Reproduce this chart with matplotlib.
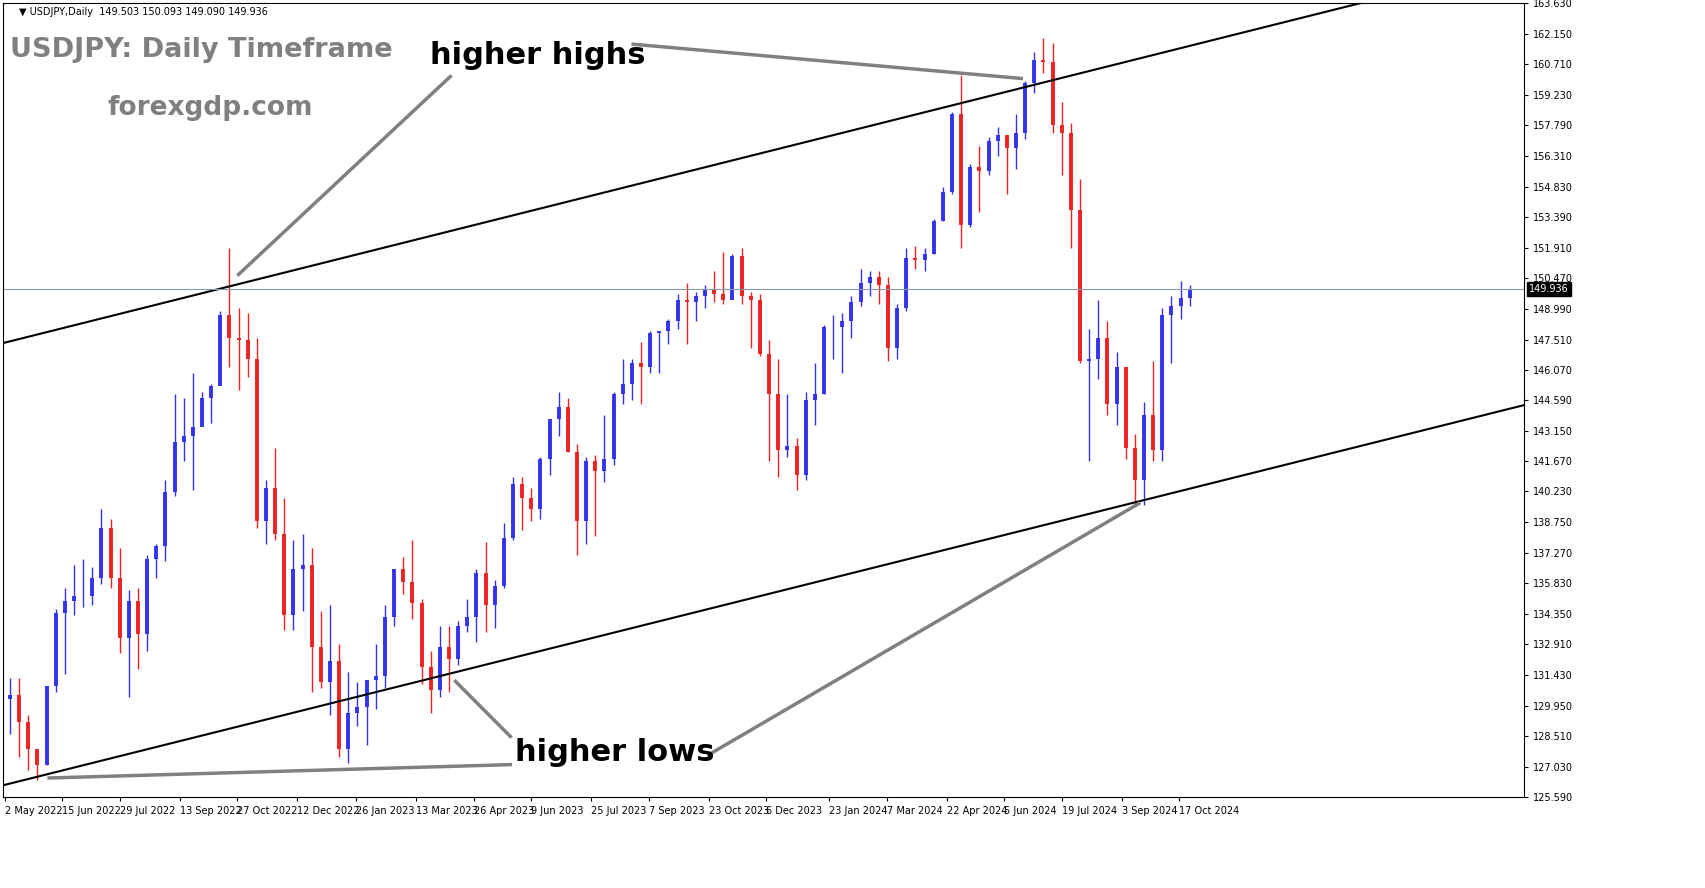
import matplotlib
matplotlib.use("Agg")
import matplotlib.pyplot as plt
import matplotlib.dates as mdates
import pandas as pd

closes = [130.5,129.2,127.9,127.1,130.9,134.4,135.0,135.2,135.2,136.1,138.5,136.1,133.2,135.0,133.4,137.0,137.6,140.2,142.6,142.9,143.3,144.7,145.3,148.7,147.6,147.5,146.6,138.8,140.4,138.2,134.3,136.5,136.7,132.8,131.1,
132.1,127.9,129.6,129.9,131.2,131.4,134.2,136.5,135.9,134.9,131.8,130.7,132.8,132.2,133.8,134.2,136.3,134.8,135.7,138.0,140.6,139.9,139.4,141.8,143.7,144.3,142.1,138.8,141.7,141.2,141.8,144.9,145.4,146.4,146.2,147.8,147.9,148.4,149.4,149.3,149.6,149.9,149.7,149.4,151.5,149.6,149.4,146.8,144.9,142.2,142.4,141.0,
144.6,144.9,148.1,148.1,148.4,149.3,150.2,150.5,150.1,147.1,149.0,151.4,151.3,151.6,153.2,154.6,158.3,153.0,155.8,155.6,157.0,157.3,156.7,157.4,159.8,160.9,160.8,157.8,157.4,153.7,146.5,146.6,147.6,144.4,146.2,142.3,140.8,143.9,142.2,148.7,149.1,149.5,149.94]
highs = [131.3,131.3,129.5,127.9,130.9,134.6,135.6,136.7,137.0,136.6,139.4,138.9,137.5,135.5,135.6,137.2,137.7,140.8,144.9,144.7,145.9,145.0,145.4,148.9,151.9,149.0,148.8,147.6,140.8,142.3,139.9,137.9,138.2,137.5,134.5,
134.8,132.9,131.6,131.1,131.2,132.9,134.8,136.5,137.1,137.9,135.1,132.6,133.8,133.8,134.0,135.1,136.5,137.8,136.0,138.7,140.9,140.9,140.4,141.9,143.4,145.0,144.7,142.5,141.9,142.0,143.9,145.0,146.6,146.6,147.4,147.9,147.9,148.5,149.7,150.2,149.8,150.1,150.8,151.7,151.6,151.9,149.8,149.7,147.5,146.6,144.9,142.8,
145.0,146.4,148.2,148.7,148.8,149.6,150.9,150.8,150.8,150.5,149.2,151.9,151.97,151.9,153.3,154.8,158.4,160.2,155.9,156.8,157.2,157.7,157.0,158.3,159.9,161.3,161.95,161.7,158.9,157.9,155.2,148.0,149.4,148.4,146.9,146.2,143.0,144.5,146.5,149.0,149.6,150.3,150.1]
lows = [128.6,127.5,126.9,126.4,127.1,130.6,131.5,134.3,134.7,134.8,135.8,135.6,132.5,130.4,131.7,132.6,136.1,136.9,140.0,141.7,140.3,143.5,143.5,145.4,146.2,145.1,145.7,138.5,137.7,137.9,133.6,133.6,134.5,130.6,130.8,
129.5,127.5,127.2,129.0,128.1,129.8,130.8,133.8,135.3,134.1,131.0,129.6,130.4,130.6,131.9,133.5,133.0,133.5,133.7,135.6,137.9,138.4,138.8,138.9,141.0,142.9,142.1,137.2,137.7,138.1,140.7,141.5,144.4,144.6,144.4,145.9,145.9,147.3,148.0,147.3,148.4,149.0,149.3,149.2,149.7,149.2,147.1,146.7,141.7,140.9,141.9,140.3,
140.8,143.4,144.9,146.6,145.9,147.6,149.1,149.6,149.2,146.5,146.6,148.9,150.9,150.8,151.6,153.2,154.5,151.9,152.9,153.6,155.4,156.3,154.5,155.7,157.1,159.3,160.3,157.4,155.4,151.9,146.4,141.7,145.6,143.9,143.4,141.8,139.6,139.6,141.7,141.7,146.4,148.5,149.1]
dates = pd.date_range("2022-05-06", periods=len(closes), freq="7D")
opens = [130.3] + closes[:-1]

yticks = [125.590,127.030,128.510,129.950,131.430,132.910,134.350,135.830,137.270,138.750,140.230,141.670,143.150,144.590,146.070,147.510,148.990,150.470,151.910,153.390,154.830,156.310,157.790,159.230,160.710,162.150,163.630]
xlabels = ["2 May 2022","15 Jun 2022","29 Jul 2022","13 Sep 2022","27 Oct 2022","12 Dec 2022","26 Jan 2023","13 Mar 2023","26 Apr 2023","9 Jun 2023","25 Jul 2023","7 Sep 2023","23 Oct 2023","6 Dec 2023","23 Jan 2024","7 Mar 2024","22 Apr 2024","5 Jun 2024","19 Jul 2024","3 Sep 2024","17 Oct 2024"]

upper = (("2022-05-02",147.36),("2025-03-11",163.73))
lower = (("2022-05-02",126.17),("2025-07-08",144.37))
ann = [(("2022-10-28",150.63),("2023-04-08",160.11)),
       (("2023-08-26",161.66),("2024-06-18",160.02)),
       (("2022-06-05",126.5),("2023-05-24",127.14)),
       (("2023-04-12",131.13),("2023-05-24",128.49)),
       (("2023-10-24",127.66),("2024-09-16",139.65))]
last = 149.936

fig = plt.figure(figsize=(17.05,8.88), dpi=100)
ax = fig.add_axes([0.002,0.1025,0.892,0.894])
dn = mdates.date2num(dates)
for x,o,h,l,c in zip(dn,opens,highs,lows,closes):
    col = "#3333ee" if c>=o else "#ee2222"
    ax.vlines(x, l, h, color=col, lw=1.0)
    ax.vlines(x, min(o,c), max(o,c), color=col, lw=2.8)
def seg(p, **kw):
    (d1,y1),(d2,y2)=p
    ax.plot([mdates.datestr2num(d1),mdates.datestr2num(d2)],[y1,y2],**kw)
seg(upper,color="black",lw=1.5)
seg(lower,color="black",lw=1.5)
for a in ann: seg(a,color="#808080",lw=2.5)
ax.axhline(last,color="#8899aa",lw=0.8)
ax.set_xlim(mdates.datestr2num("2022-05-01"),mdates.datestr2num("2025-07-08"))
ax.set_ylim(yticks[0],yticks[-1])
ax.yaxis.tick_right()
ax.set_yticks(yticks)
ax.set_yticklabels([f"{v:.3f}" for v in yticks],fontsize=7)
ax.set_xticks([mdates.date2num(pd.Timestamp(s)) for s in xlabels])
ax.set_xticklabels(xlabels,fontsize=7,ha="left")
ax.tick_params(length=3)
ax.text(1.003,last,f"{last:.3f}",transform=ax.get_yaxis_transform(),fontsize=7,color="white",va="center",
        bbox=dict(facecolor="black",edgecolor="black",pad=1.5))
ax.text(0.01,0.995,"▼ USDJPY,Daily  149.503 150.093 149.090 149.936",transform=ax.transAxes,fontsize=7,va="top")
fig.text(10/1705,1-50/888,"USDJPY: Daily Timeframe",fontsize=19.5,fontweight="bold",color="#808080",va="center")
fig.text(108/1705,1-108/888,"forexgdp.com",fontsize=19,fontweight="bold",color="#808080",va="center")
fig.text(430/1705,1-55/888,"higher highs",fontsize=22,fontweight="bold",color="black",va="center")
fig.text(515/1705,1-752/888,"higher lows",fontsize=22,fontweight="bold",color="black",va="center")
fig.savefig("out.png",dpi=100)
